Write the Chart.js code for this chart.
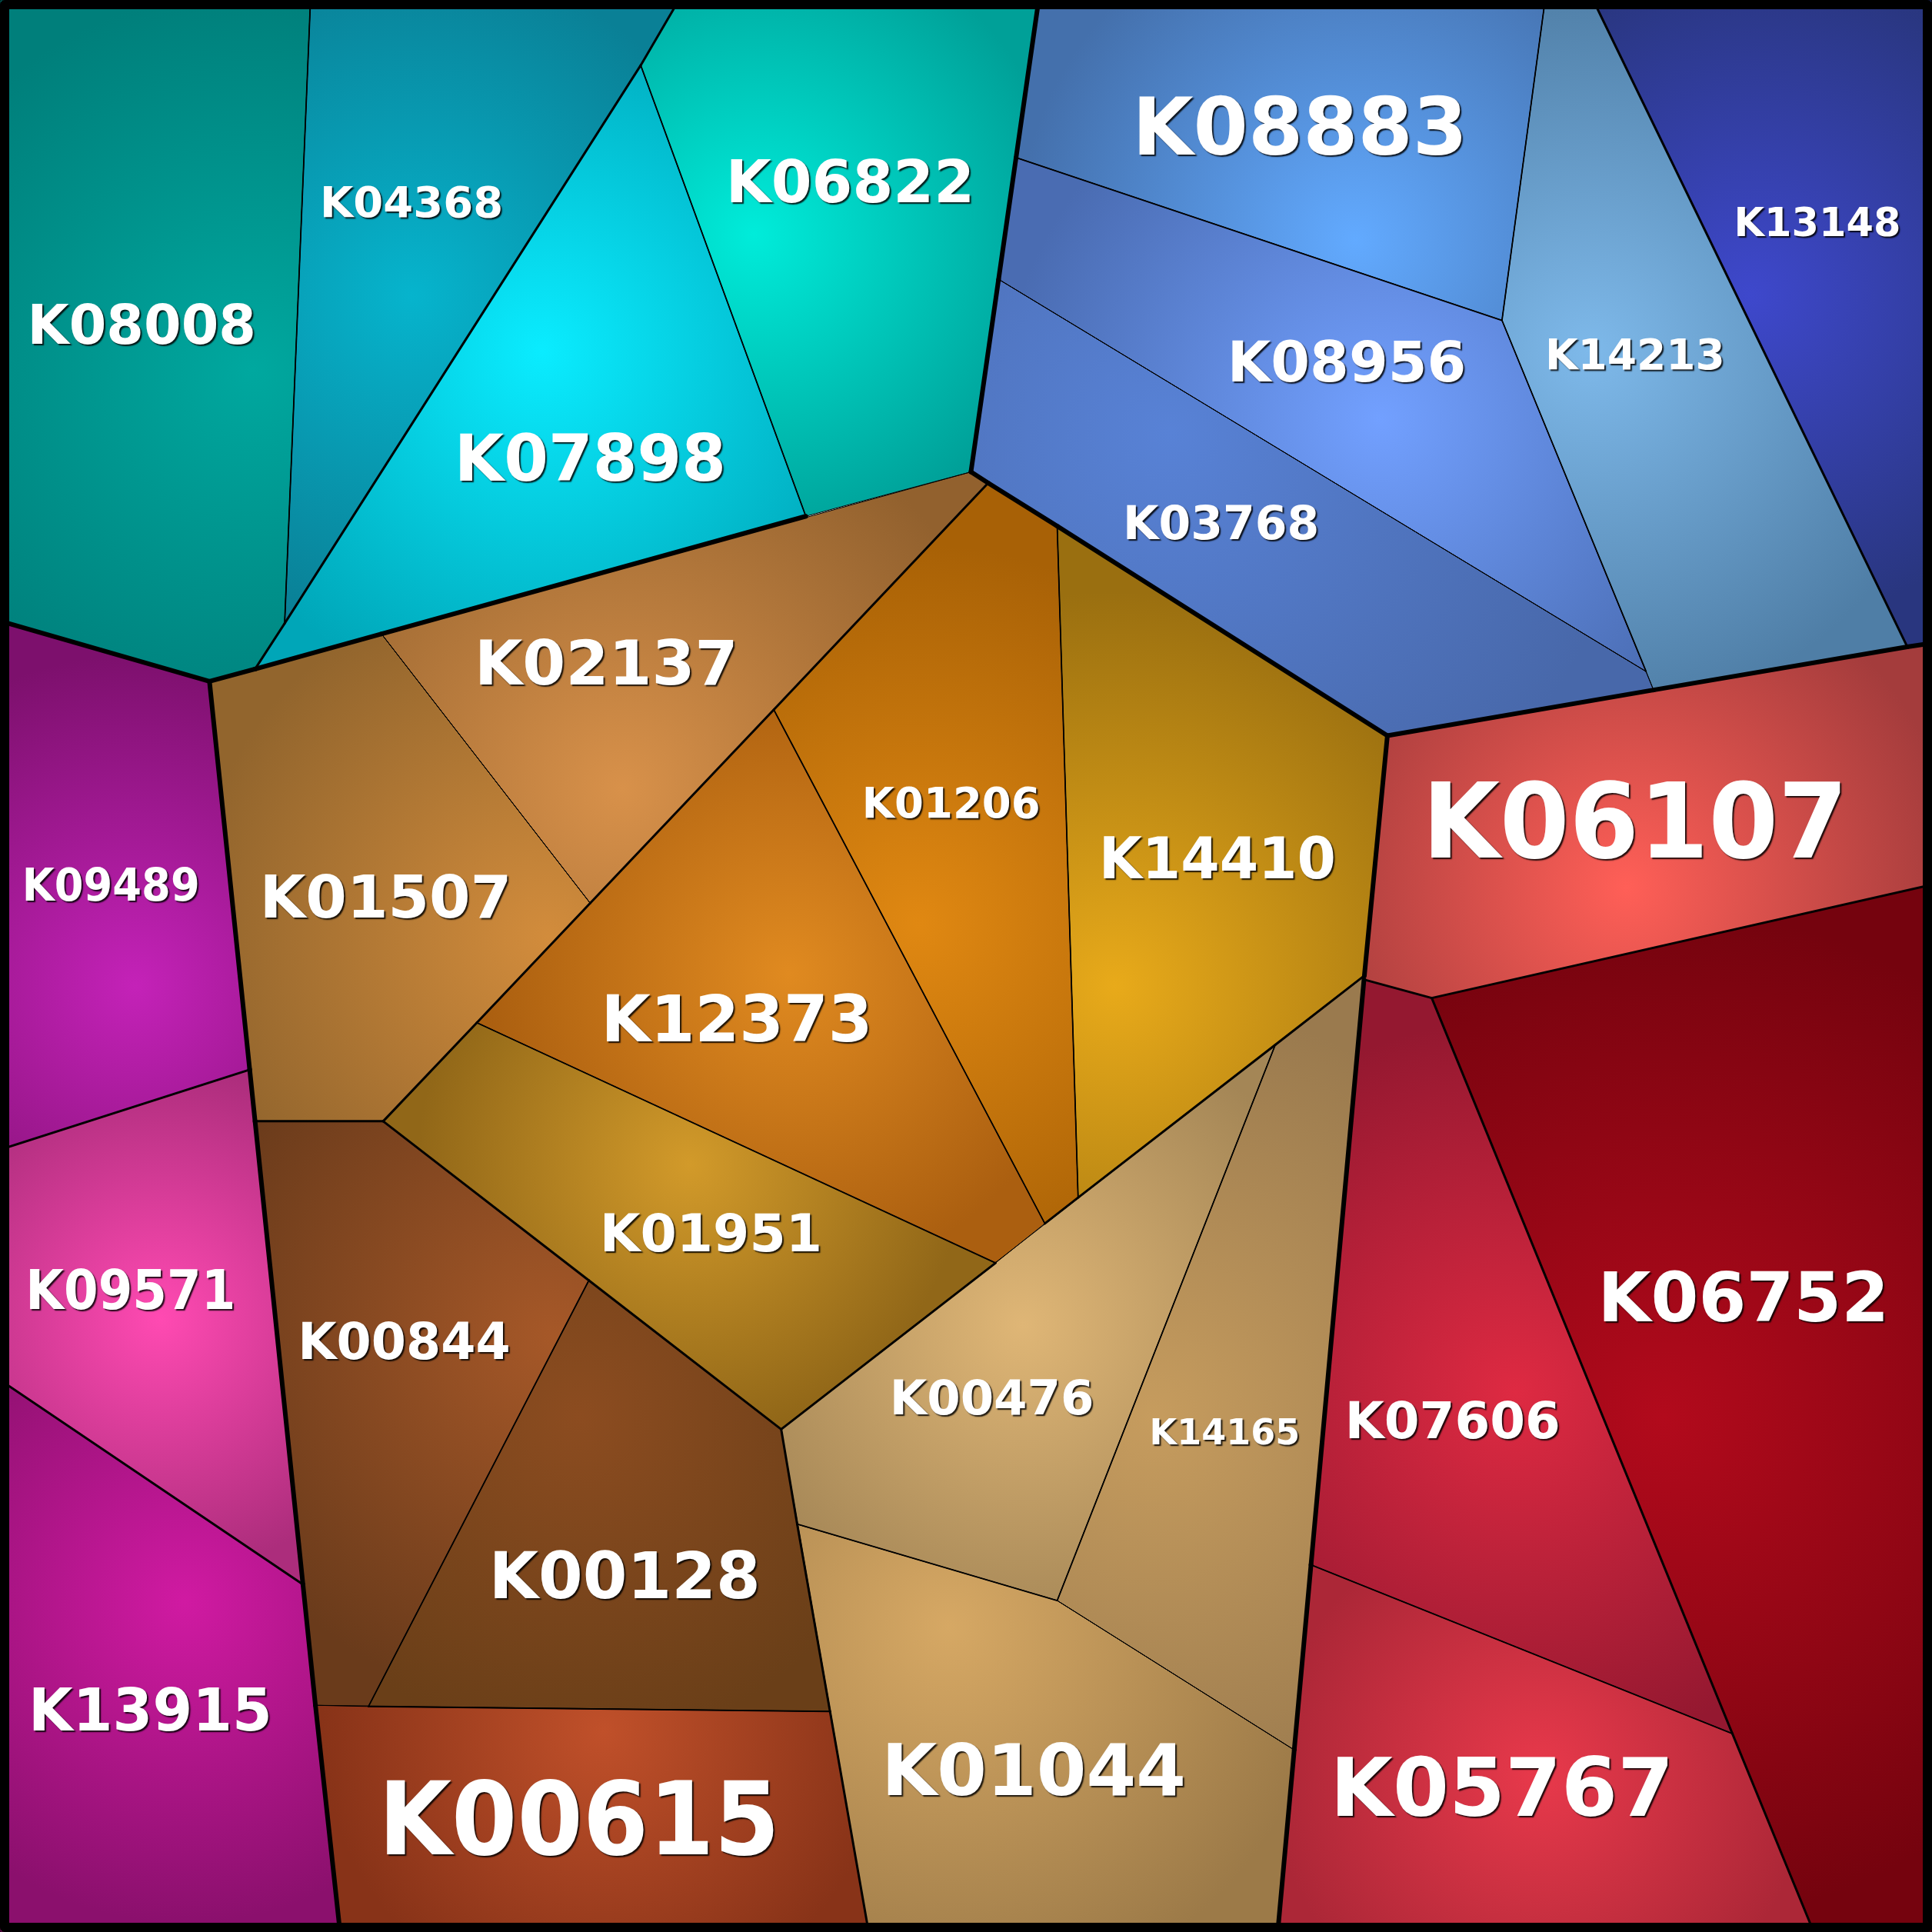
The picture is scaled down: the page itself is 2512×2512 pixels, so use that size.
<!DOCTYPE html>
<html><head><meta charset="utf-8">
<script src="https://cdn.jsdelivr.net/npm/chart.js@4.4.1/dist/chart.umd.min.js"></script>
<style>html,body{margin:0;padding:0;background:#fff}#wrap{width:2512px;height:2512px;position:relative}</style>
</head><body><div id="wrap"><canvas id="c"></canvas></div>
<script>
// ---------- DATA (layout units, 0..1568 square) ----------
const cellNames = ['K08008','K04368','K07898','K06822','K08883','K08956','K03768','K14213','K13148',
  'K06107','K06752','K07606','K05767','K02137','K01507','K01206','K14410','K12373','K01951',
  'K00476','K14165','K01044','K00844','K00128','K00615','K09489','K09571','K13915'];

// hierarchy path of each cell: group.subgroup.subsubgroup
const cellPaths = ['T.a.1','T.a.2','T.b.1','T.b.2','B.a.1','B.a.2','B.a.2','B.a.3','B.b.1',
  'R.a.1','R.b.1','R.c.1','R.c.2','O.a.1','O.a.1','O.c.1','O.c.2','O.c.3','O.c.4',
  'O.t.1','O.t.2','O.t.2','O.b.1','O.b.2','O.b.3','M.a.1','M.b.1','M.c.1'];

const cellPolygons = [
  [[0,0],[252,0],[231,506],[207,543],[170,553],[0,504]],
  [[252,0],[551,0],[520,53],[231,506]],
  [[520,53],[654,419],[207,543],[231,506]],
  [[551,0],[843,0],[788,383],[654,419],[520,53]],
  [[843,0],[1254,0],[1219,260],[825,128]],
  [[825,128],[1219,260],[1336,545],[811,227]],
  [[811,227],[1336,545],[1342,560],[1126,597],[858,427],[802,392],[788,383]],
  [[1254,0],[1293,0],[1548,525],[1342,560],[1219,260]],
  [[1293,0],[1568,0],[1568,522],[1548,525]],
  [[1126,597],[1342,560],[1548,525],[1568,522],[1568,718],[1162,810],[1107,795]],
  [[1162,810],[1568,718],[1568,1568],[1472,1568],[1406,1407]],
  [[1107,795],[1162,810],[1406,1407],[1064,1270]],
  [[1064,1270],[1406,1407],[1472,1568],[1037,1568]],
  [[310,515],[788,383],[802,392],[628,576],[479,733]],
  [[170,553],[310,515],[479,733],[387,830],[311,910],[207,910]],
  [[802,392],[858,427],[875,972],[848,993],[628,576]],
  [[858,427],[1126,597],[1107,792],[1035,848],[875,972]],
  [[628,576],[848,993],[808,1025],[387,830],[479,733]],
  [[387,830],[808,1025],[634,1160],[311,910]],
  [[634,1160],[1035,848],[858,1299],[647,1237]],
  [[1035,848],[1107,792],[1050,1420],[858,1299]],
  [[647,1237],[858,1299],[1050,1420],[1037,1568],[705,1568]],
  [[207,910],[311,910],[478,1039],[299,1385],[256,1384]],
  [[478,1039],[634,1160],[674,1389],[299,1385]],
  [[256,1384],[674,1389],[705,1568],[276,1568]],
  [[0,504],[170,553],[203,868],[0,933]],
  [[0,933],[203,868],[246,1286],[0,1120]],
  [[0,1120],[246,1286],[276,1568],[0,1568]]
];

// generator site of each cell (gradient focus)
const cellSites = [[205,300],[335,240],[440,285],[612,190],[1100,195],[1120,340],[950,350],[1290,285],[1420,240],
  [1320,720],[1350,1150],[1230,1130],[1250,1440],[505,640],[445,760],[745,750],[905,800],[640,790],[560,945],
  [830,1075],[935,1150],[770,1320],[450,1085],[470,1150],[490,1405],[110,800],[130,1070],[150,1300]];

// ---------- STYLE ----------
const innerColors = ['#00a89f','#06b4cd','#0aecff','#00ecda','#62aaff','#72a0ff','#5882d6','#7eb9ea','#3e48cc',
  '#ff5f57','#b20a1c','#de2a42','#e8394b','#d8914a','#d28c3c','#e08812','#e8aa1a','#e08a20','#d29a2a',
  '#dfb676','#c69c5e','#d6a864','#a65828','#8c4c20','#c0502a','#c422b8','#ff4ab2','#d01aa2'];
const outerColors = ['#007f7b','#0a8096','#00a6b8','#00a098','#4470ac','#4a6cb2','#4868aa','#4f7ea6','#29367f',
  '#a43c3c','#75030e','#941830','#ac2737','#92612e','#92652d','#a86106','#9a6f10','#ab5f10','#916718',
  '#a48656','#9a7a4e','#9c7a48','#6a3b1b','#6a3f18','#883318','#7d106d','#ac2d7c','#8b106d'];
const labelSizes = [70.5,56,83,76,102.5,73,60,55,51,135,89,66,105,80.5,77,54.5,75,83,68,62.5,46,93,65,83,132,58,72,76];
// label anchor points (layout units)
const labelAnchors = [[115,263],[334,163],[479,371],[690,147],[1055,102],[1093,293],[991,424],[1327,287],[1475,180],
  [1327,665],[1415,1052],[1179,1152],[1219,1450],[492,537],[313,727],[772,651],[988,696],[598,826],[577,1000],
  [805,1134],[994,1162],[839,1436],[328,1088],[507,1278],[470,1475],[90,718],[106,1046],[122,1387]];
const LAYOUT = 1568;
const EDGE_WIDTHS = [6, 3, 1.8, 1];
const GRADIENT_REACH = 0.85;
const LABEL_FIT = 0.77;

function lcaDepth(a, b) {
  const pa = cellPaths[a].split('.'), pb = cellPaths[b].split('.');
  let d = 0; while (d < pa.length && pa[d] === pb[d]) d++;
  return Math.min(d, EDGE_WIDTHS.length - 1);
}

function cellGradient(context) {
  const chart = context.chart, i = context.datasetIndex;
  if (!chart.chartArea || !chart.scales.x) return innerColors[i];
  const xs = chart.scales.x, ys = chart.scales.y;
  const cx = xs.getPixelForValue(cellSites[i][0]), cy = ys.getPixelForValue(cellSites[i][1]);
  let R = 1;
  for (const [vx, vy] of cellPolygons[i]) {
    R = Math.max(R, Math.hypot(xs.getPixelForValue(vx) - cx, ys.getPixelForValue(vy) - cy));
  }
  const g = chart.ctx.createRadialGradient(cx, cy, 0, cx, cy, R * GRADIENT_REACH);
  g.addColorStop(0, innerColors[i]);
  g.addColorStop(1, outerColors[i]);
  return g;
}

const datasets = cellNames.map((name, i) => ({
  label: name,
  data: cellPolygons[i].concat([cellPolygons[i][0]]).map(([x, y]) => ({x, y})),
  backgroundColor: cellGradient,
  borderColor: '#000',
  borderWidth: EDGE_WIDTHS[EDGE_WIDTHS.length - 1],
  fill: 'shape',
  pointRadius: 0,
  tension: 0
}));

const edgesAndLabels = {
  id: 'edgesAndLabels',
  afterDatasetsDraw(chart) {
    const ctx = chart.ctx, xs = chart.scales.x, ys = chart.scales.y;
    const P = ([x, y]) => [xs.getPixelForValue(x), ys.getPixelForValue(y)];
    const segs = [];
    const n = cellPolygons.length, tol = 2.5;
    for (let a = 0; a < n; a++) {
      const A = cellPolygons[a];
      for (let i = 0; i < A.length; i++) {
        const p = A[i], q = A[(i + 1) % A.length];
        const dx = q[0] - p[0], dy = q[1] - p[1], L = Math.hypot(dx, dy);
        if (L < 0.5) continue;
        const ux = dx / L, uy = dy / L;
        for (let b = a + 1; b < n; b++) {
          const B = cellPolygons[b];
          for (let j = 0; j < B.length; j++) {
            const r = B[j], s = B[(j + 1) % B.length];
            const dr = Math.abs(ux * (r[1] - p[1]) - uy * (r[0] - p[0]));
            const ds = Math.abs(ux * (s[1] - p[1]) - uy * (s[0] - p[0]));
            if (dr > tol || ds > tol) continue;
            const tr = (ux * (r[0] - p[0]) + uy * (r[1] - p[1])) / L;
            const ts = (ux * (s[0] - p[0]) + uy * (s[1] - p[1])) / L;
            const lo = Math.max(0, Math.min(tr, ts)), hi = Math.min(1, Math.max(tr, ts));
            if ((hi - lo) * L < 0.5) continue;
            const w = EDGE_WIDTHS[lcaDepth(a, b)];
            segs.push({w, a: [p[0] + lo * dx, p[1] + lo * dy], b: [p[0] + hi * dx, p[1] + hi * dy]});
          }
        }
      }
    }
    segs.sort((s1, s2) => s1.w - s2.w);
    ctx.save();
    ctx.strokeStyle = '#000';
    ctx.lineCap = 'round';
    for (const s of segs) {
      const [x1, y1] = P(s.a), [x2, y2] = P(s.b);
      ctx.lineWidth = s.w;
      ctx.beginPath(); ctx.moveTo(x1, y1); ctx.lineTo(x2, y2); ctx.stroke();
    }
    ctx.restore();

    for (let i = 0; i < n; i++) {
      const pts = cellPolygons[i].map(P);
      const [cx, cy] = P(labelAnchors[i]);
      let minX = Infinity, maxX = -Infinity;
      for (let k = 0; k < pts.length; k++) {
        const [x0, y0] = pts[k], [x1, y1] = pts[(k + 1) % pts.length];
        if ((y0 - cy) * (y1 - cy) <= 0 && y0 !== y1) {
          const x = x0 + (cy - y0) / (y1 - y0) * (x1 - x0);
          minX = Math.min(minX, x); maxX = Math.max(maxX, x);
        }
      }
      const fs = labelSizes[i];
      ctx.save();
      ctx.font = `bold ${fs}px "DejaVu Sans"`;
      const w = ctx.measureText(cellNames[i]).width;
      const sx = Math.min(1, LABEL_FIT * (maxX - minX) / w);
      ctx.translate(cx, cy);
      ctx.scale(sx, 1);
      ctx.textAlign = 'center';
      ctx.textBaseline = 'alphabetic';
      ctx.shadowColor = 'rgba(0,0,0,0.85)';
      ctx.shadowOffsetX = 2; ctx.shadowOffsetY = 2; ctx.shadowBlur = 1.5;
      ctx.fillStyle = '#fff';
      ctx.fillText(cellNames[i], 0, 0.3645 * fs);
      ctx.restore();
    }
  },
  afterDraw(chart) {
    const ctx = chart.ctx, {left, top, right, bottom} = chart.chartArea;
    ctx.save();
    ctx.strokeStyle = '#000';
    ctx.lineWidth = 12;
    ctx.lineJoin = 'round';
    ctx.strokeRect(left + 6, top + 6, right - left - 12, bottom - top - 12);
    ctx.restore();
  }
};

new Chart(document.getElementById('c'), {
  type: 'line',
  data: {datasets},
  options: {
    responsive: true, maintainAspectRatio: false, animation: false, events: [],
    layout: {padding: 0},
    scales: {
      x: {type: 'linear', min: 0, max: LAYOUT, display: false},
      y: {type: 'linear', min: 0, max: LAYOUT, reverse: true, display: false}
    },
    plugins: {legend: {display: false}, tooltip: {enabled: false}, filler: {propagate: false, drawTime: 'beforeDatasetsDraw'}}
  },
  plugins: [edgesAndLabels]
});
</script></body></html>
